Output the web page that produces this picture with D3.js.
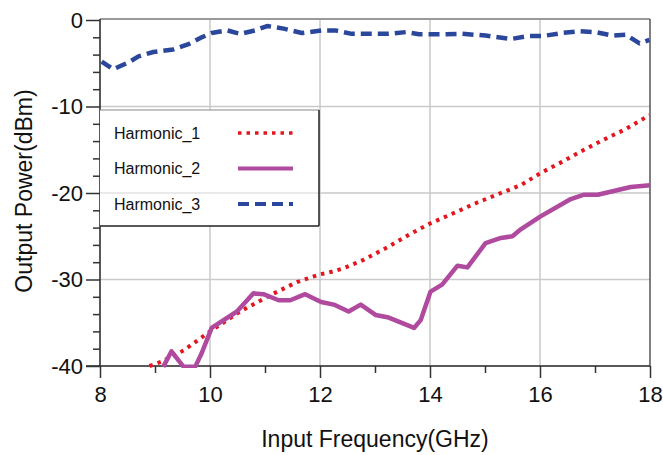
<!DOCTYPE html>
<html><head><meta charset="utf-8">
<script src="https://cdn.jsdelivr.net/npm/d3@7"></script>
<style>
html,body{margin:0;padding:0;background:#fff;}
svg text{font-family:"Liberation Sans",Arial,Helvetica,sans-serif;fill:#111;}
</style></head>
<body><svg id="c" width="663" height="455"></svg>
<script>
// ---- data ----
const xTicks = [8, 10, 12, 14, 16, 18];
const yTicks = [0, -10, -20, -30, -40];
const seriesNames = ["Harmonic_1", "Harmonic_2", "Harmonic_3"];

const h1x = [8.9, 9.12, 9.52, 10.0, 10.55, 11.1, 11.58, 12.0, 12.16, 12.43, 12.8, 13.22, 13.65, 14.01, 14.44, 14.86, 15.29, 15.65, 16.01, 16.4, 16.8, 17.17, 17.53, 17.99];
const h1y = [-40, -39.5, -38.2, -36.0, -33.7, -31.8, -30.3, -29.4, -29.2, -28.7, -27.7, -26.3, -24.7, -23.5, -22.3, -21.1, -20.0, -19.1, -17.7, -16.4, -15.0, -13.8, -12.7, -11.0];

const h2x = [9.15, 9.30, 9.52, 9.73, 9.85, 10.03, 10.49, 10.79, 10.97, 11.25, 11.46, 11.73, 12.02, 12.25, 12.52, 12.74, 13.01, 13.25, 13.71, 13.83, 14.01, 14.22, 14.5, 14.68, 15.01, 15.29, 15.5, 15.65, 16.01, 16.56, 16.8, 17.05, 17.65, 18.0];
const h2y = [-40.1, -38.3, -40.1, -40.1, -38.5, -35.6, -33.7, -31.6, -31.7, -32.4, -32.4, -31.7, -32.6, -32.9, -33.7, -32.9, -34.1, -34.4, -35.6, -34.7, -31.4, -30.6, -28.4, -28.6, -25.8, -25.2, -25.0, -24.2, -22.7, -20.7, -20.2, -20.2, -19.3, -19.1];

const h3x = [8.03, 8.24, 8.52, 8.70, 8.97, 9.33, 9.61, 9.85, 10.03, 10.31, 10.55, 10.82, 11.04, 11.34, 11.67, 12.04, 12.28, 12.58, 12.95, 13.25, 13.56, 13.80, 14.22, 14.59, 15.01, 15.47, 15.80, 16.05, 16.41, 16.71, 17.02, 17.32, 17.56, 17.81, 17.99];
const h3y = [-4.8, -5.7, -4.9, -4.2, -3.7, -3.4, -2.8, -2.0, -1.5, -1.2, -1.6, -1.2, -0.7, -1.0, -1.5, -1.2, -1.2, -1.6, -1.6, -1.6, -1.4, -1.65, -1.65, -1.6, -1.8, -2.2, -1.85, -1.85, -1.5, -1.3, -1.4, -1.8, -1.7, -2.7, -2.3];

// ---- layout ----
const svg = d3.select("#c");
const L = 100, R = 650, T = 20, B = 366;
const x = d3.scaleLinear().domain([8, 18]).range([L, R]);
const y = d3.scaleLinear().domain([-40, 0]).range([B, T]);
const fmt = d => String(d);

const series = [
  {name: seriesNames[0], xs: h1x, ys: h1y, color: "#e3151f", width: 4, dash: "3.5,5"},
  {name: seriesNames[1], xs: h2x, ys: h2y, color: "#b04a9f", width: 4.5, dash: null},
  {name: seriesNames[2], xs: h3x, ys: h3y, color: "#2b479c", width: 4.5, dash: "11,6"}
];

// grid
const gridColor = "#c9c9c9";
svg.append("g").selectAll("line").data([10, 12, 14, 16]).join("line")
  .attr("x1", d => x(d)).attr("x2", d => x(d)).attr("y1", T).attr("y2", B)
  .attr("stroke", gridColor).attr("stroke-width", 1.5);
svg.append("g").selectAll("line").data([-10, -20, -30]).join("line")
  .attr("x1", L).attr("x2", R).attr("y1", d => y(d)).attr("y2", d => y(d))
  .attr("stroke", gridColor).attr("stroke-width", 1.5);

// frame top/right
svg.append("line").attr("x1", L).attr("x2", R).attr("y1", T - 1).attr("y2", T - 1).attr("stroke", "#777").attr("stroke-width", 1.5);
svg.append("line").attr("x1", R).attr("x2", R).attr("y1", T - 1).attr("y2", B).attr("stroke", "#555").attr("stroke-width", 1.5);

// axes
const xAxis = d3.axisBottom(x).tickValues(xTicks).tickSize(12).tickPadding(8).tickFormat(fmt);
const gx = svg.append("g").attr("transform", `translate(0,${B})`).call(xAxis);
gx.select(".domain").attr("stroke", "#222").attr("stroke-width", 1.5).attr("d", `M${L - 14},0H${R}`);
gx.selectAll(".tick line").attr("stroke", "#333").attr("stroke-width", 1.5);
gx.selectAll("text").attr("font-size", 22).attr("fill", "#111").attr("font-family", "Liberation Sans, Arial, sans-serif");
const xMinor = d3.axisBottom(x).tickValues([9, 11, 13, 15, 17]).tickSize(7).tickFormat("");
const gxm = svg.append("g").attr("transform", `translate(0,${B})`).call(xMinor);
gxm.select(".domain").remove();
gxm.selectAll(".tick line").attr("stroke", "#333").attr("stroke-width", 1.5);

const yAxis = d3.axisLeft(y).tickValues(yTicks).tickSize(14).tickPadding(3).tickFormat(fmt);
const gy = svg.append("g").attr("transform", `translate(${L},0)`).call(yAxis);
gy.select(".domain").attr("stroke", "#222").attr("stroke-width", 1.5).attr("d", `M0,${T - 1}V${B}`);
gy.selectAll(".tick line").attr("stroke", "#333").attr("stroke-width", 1.5);
gy.selectAll("text").attr("font-size", 22).attr("fill", "#111").attr("font-family", "Liberation Sans, Arial, sans-serif");
const yMinorVals = d3.range(-38, 0, 2).filter(v => v % 10 !== 0);
const yMinor = d3.axisLeft(y).tickValues(yMinorVals).tickSize(7).tickFormat("");
const gym = svg.append("g").attr("transform", `translate(${L},0)`).call(yMinor);
gym.select(".domain").remove();
gym.selectAll(".tick line").attr("stroke", "#333").attr("stroke-width", 1.5);

// titles
svg.append("text").attr("x", 375).attr("y", 447).attr("text-anchor", "middle")
  .attr("font-size", 23).text("Input Frequency(GHz)");
svg.append("text").attr("transform", "translate(32,191) rotate(-90)").attr("text-anchor", "middle")
  .attr("font-size", 23).text("Output Power(dBm)");

// lines
svg.append("clipPath").attr("id", "pc").append("rect")
  .attr("x", L).attr("y", T - 10).attr("width", R - L + 4).attr("height", B - T + 12);
const line = d3.line().x(d => x(d[0])).y(d => y(d[1])).curve(d3.curveLinear);
const gl = svg.append("g").attr("clip-path", "url(#pc)");
series.forEach(s => {
  const pts = s.xs.map((v, i) => [v, s.ys[i]]);
  gl.append("path").datum(pts).attr("d", line).attr("fill", "none")
    .attr("stroke", s.color).attr("stroke-width", s.width)
    .attr("stroke-dasharray", s.dash).attr("stroke-linejoin", "round");
});

// legend
const lg = svg.append("g");
lg.append("rect").attr("x", L).attr("y", 110).attr("width", 219).attr("height", 116).attr("fill", "#fff");
lg.append("line").attr("x1", L).attr("x2", 319).attr("y1", y(-20)).attr("y2", y(-20)).attr("stroke", "#e2e2e2").attr("stroke-width", 1.5);
lg.append("line").attr("x1", L).attr("x2", 319).attr("y1", 110).attr("y2", 110).attr("stroke", "#888").attr("stroke-width", 1.2);
lg.append("line").attr("x1", 319).attr("x2", 319).attr("y1", 110).attr("y2", 226).attr("stroke", "#222").attr("stroke-width", 1.5);
lg.append("line").attr("x1", L).attr("x2", 319).attr("y1", 226).attr("y2", 226).attr("stroke", "#222").attr("stroke-width", 1.5);
const rowsY = [133, 168.5, 204];
series.forEach((s, i) => {
  lg.append("text").attr("x", 114).attr("y", rowsY[i] + 5.5).attr("font-size", 16).text(s.name);
  lg.append("line").attr("x1", 238).attr("x2", 293).attr("y1", rowsY[i]).attr("y2", rowsY[i])
    .attr("stroke", s.color).attr("stroke-width", s.width - 0.5).attr("stroke-dasharray", s.dash);
});
</script></body></html>
